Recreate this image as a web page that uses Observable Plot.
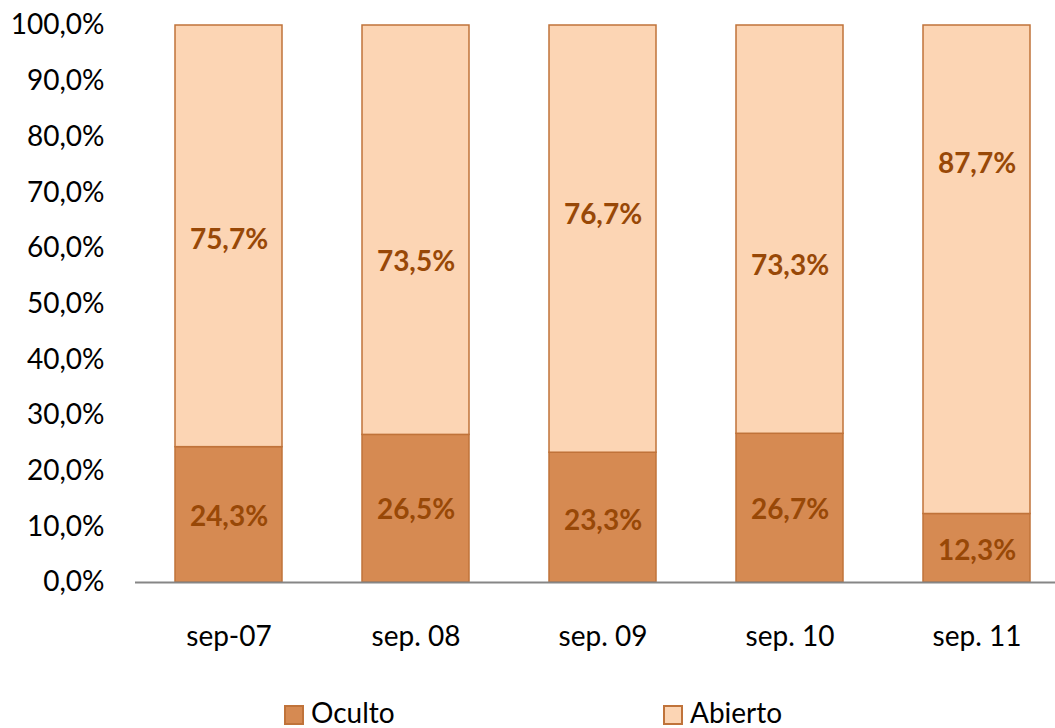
<!DOCTYPE html>
<html>
<head>
<meta charset="utf-8">
<script src="https://cdn.jsdelivr.net/npm/d3@7"></script>
<script src="https://cdn.jsdelivr.net/npm/@observablehq/plot@0.6"></script>
<style>
  html, body { margin: 0; padding: 0; background: #fff; overflow: hidden; }
  #wrap { position: relative; width: 1055px; height: 728px; font-family: Lato, "Open Sans", sans-serif; }
  .leg { position: absolute; top: 698px; height: 28px; display: flex; align-items: center; font-size: 28px; line-height: 28px; color: #000; }
  .sw { width: 16px; height: 16px; border: 2px solid #C0733A; margin-right: 7px; margin-top: 6px; }
</style>
</head>
<body>
<div id="wrap"></div>
<script>
const months = ["sep-07", "sep. 08", "sep. 09", "sep. 10", "sep. 11"];
const series = ["Oculto", "Abierto"];
const oculto = [0.243, 0.265, 0.233, 0.267, 0.123];
const abierto = [0.757, 0.735, 0.767, 0.733, 0.877];
// where the data labels sit (in value units)
const labelAtOculto = [0.117, 0.131, 0.110, 0.131, 0.057];
const labelAtAbierto = [0.614, 0.576, 0.659, 0.569, 0.752];
const yTicks = [0, 0.1, 0.2, 0.3, 0.4, 0.5, 0.6, 0.7, 0.8, 0.9, 1.0];

const fills = ["#D68A52", "#FCD5B4"];
const locale = d3.formatLocale({decimal: ",", thousands: ".", grouping: [3], currency: ["", "€"]});
const fmt = locale.format(".1%");

const rows = [];
months.forEach((m, i) => {
  rows.push({month: m, series: "Oculto", value: oculto[i], labelAt: labelAtOculto[i]});
  rows.push({month: m, series: "Abierto", value: abierto[i], labelAt: labelAtAbierto[i]});
});

const chart = Plot.plot({
  width: 1055,
  height: 660,
  marginLeft: 135,
  marginRight: 0,
  marginTop: 25,
  marginBottom: 78,
  style: {fontFamily: "Lato, 'Open Sans', sans-serif", fontSize: "28px", color: "#000", background: "#fff"},
  x: {domain: months, range: [135, 1070], paddingInner: 0.4286, paddingOuter: 0.211, label: null},
  y: {domain: [0, 1], label: null},
  color: {domain: series, range: fills},
  marks: [
    Plot.barY(rows, {x: "month", y: "value", fill: "series", order: series, stroke: "#C0733A", strokeWidth: 1.5}),
    Plot.ruleY([0], {stroke: "#868686", strokeWidth: 2}),
    Plot.text(rows, {x: "month", y: "labelAt", text: d => fmt(d.value), fill: "#984807", fontWeight: "bold", fontSize: 28}),
    Plot.axisY({ticks: yTicks, tickFormat: fmt, tickSize: 0, tickPadding: 31, fontSize: 28, label: null}),
    Plot.axisX({tickSize: 0, tickPadding: 44, fontSize: 28, label: null})
  ]
});

const wrap = document.getElementById("wrap");
wrap.appendChild(chart);
series.forEach((s, i) => {
  const item = document.createElement("div");
  item.className = "leg";
  item.style.left = (i === 0 ? 284 : 663) + "px";
  const sw = document.createElement("div");
  sw.className = "sw";
  sw.style.background = fills[i];
  const t = document.createElement("span");
  t.textContent = s;
  item.appendChild(sw);
  item.appendChild(t);
  wrap.appendChild(item);
});
</script>
</body>
</html>
